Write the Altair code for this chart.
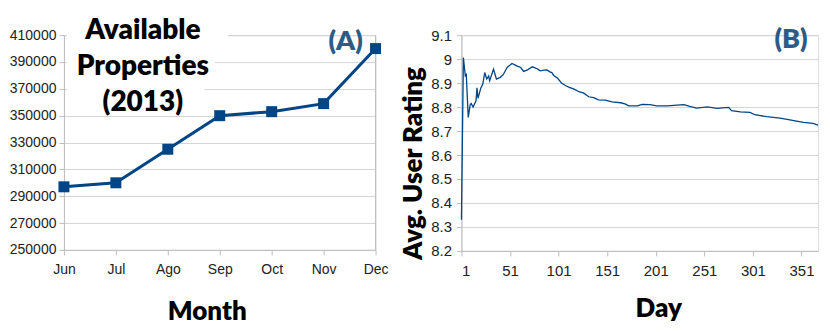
import altair as alt
import pandas as pd

# ---------------- data ----------------
months = ["Jun", "Jul", "Ago", "Sep", "Oct", "Nov", "Dec"]
properties = [297000, 300000, 325000, 350000, 353000, 359000, 400000]

days = [1, 3, 5, 6, 8, 10, 11, 13, 16, 17, 18, 21, 23, 25, 27, 29, 30, 34, 37, 41,
        44, 48, 53, 57, 59, 62, 65, 69, 74, 79, 82, 86, 89, 92, 94, 96, 100, 104,
        108, 112, 117, 122, 127, 132, 137, 142, 149, 156, 165, 170, 173, 182, 187,
        195, 202, 213, 223, 230, 236, 243, 254, 264, 276, 279, 288, 298, 303, 315,
        329, 339, 353, 363, 368]
ratings = [8.33, 9.007, 8.93, 8.935, 8.757, 8.81, 8.815, 8.80, 8.826, 8.88, 8.837,
           8.88, 8.896, 8.944, 8.917, 8.93, 8.91, 8.958, 8.917, 8.924, 8.935, 8.965,
           8.982, 8.974, 8.97, 8.965, 8.949, 8.955, 8.968, 8.96, 8.951, 8.954, 8.955,
           8.947, 8.944, 8.932, 8.92, 8.90, 8.89, 8.882, 8.875, 8.864, 8.858, 8.843,
           8.839, 8.83, 8.829, 8.822, 8.818, 8.8125, 8.805, 8.805, 8.811, 8.81, 8.805,
           8.805, 8.808, 8.81, 8.803, 8.796, 8.801, 8.795, 8.799, 8.785, 8.78, 8.778,
           8.768, 8.76, 8.754, 8.747, 8.736, 8.732, 8.725]

y_ticks_a = [250000, 270000, 290000, 310000, 330000, 350000, 370000, 390000, 410000]
y_ticks_b = [8.2, 8.3, 8.4, 8.5, 8.6, 8.7, 8.8, 8.9, 9.0, 9.1]
x_ticks_b = [1, 51, 101, 151, 201, 251, 301, 351]

dfA = pd.DataFrame({"Month": months, "Properties": properties})
dfB = pd.DataFrame({"Day": days, "Rating": ratings})
one = pd.DataFrame({"k": [0]})

BLUE = "#004586"
TAG = "#2e5a86"
GRID = "#d4d4d4"
AXISC = "#bdbdbd"
LFONT = "Liberation Sans"
TFONT = "Lato"
HW = 800

# ---------------- chart A ----------------
xA = alt.X("Month:O", sort=months,
           scale=alt.Scale(type="point", padding=0),
           axis=alt.Axis(title="Month", labelAngle=0, grid=False, ticks=True,
                         tickSize=5, tickColor=AXISC, domainColor=AXISC,
                         labelFont=LFONT, labelFontSize=14, labelColor="#222",
                         labelPadding=8, titleFont=TFONT, titleFontSize=26,
                         titleFontWeight=HW, titleColor="#000",
                         titleX=143, titleY=70, titleBaseline="alphabetic"))
yA = alt.Y("Properties:Q",
           scale=alt.Scale(domain=[250000, 410000], nice=False, zero=False),
           axis=alt.Axis(title=None, values=y_ticks_a, format="d", grid=True,
                         gridColor=GRID, tickSize=5, tickColor=AXISC,
                         domainColor=AXISC, labelFont=LFONT, labelFontSize=14,
                         labelColor="#222", labelPadding=3))

baseA = alt.Chart(dfA)
annA = alt.Chart(one)
lineA = baseA.mark_line(color=BLUE, strokeWidth=3).encode(x=xA, y=yA)
ptsA = baseA.mark_point(shape="square", filled=True, size=121, opacity=1,
                        color=BLUE).encode(x=xA, y=yA)
edgeA = annA.mark_rule(color=AXISC, strokeWidth=1).encode(
    x=alt.value(312), y=alt.value(0), y2=alt.value(215))
box1 = annA.mark_rect(color="white").encode(
    x=alt.value(3), x2=alt.value(164), y=alt.value(-20), y2=alt.value(8))
box2 = annA.mark_rect(color="white").encode(
    x=alt.value(3), x2=alt.value(151), y=alt.value(8), y2=alt.value(46))
box3 = annA.mark_rect(color="white").encode(
    x=alt.value(3), x2=alt.value(141), y=alt.value(46), y2=alt.value(72))
titleA = annA.mark_text(font=TFONT, fontSize=28, fontWeight=HW, color="#000",
                        align="center", baseline="alphabetic", lineHeight=36).encode(
    x=alt.value(79), y=alt.value(4),
    text=alt.value(["Available", "Properties", "(2013)"]))
tagA = annA.mark_text(font=TFONT, fontSize=27, fontWeight=HW, color=TAG,
                      align="center", baseline="alphabetic").encode(
    x=alt.value(282), y=alt.value(15), text=alt.value("(A)"))

chartA = alt.layer(edgeA, box1, box2, box3, lineA, ptsA, titleA, tagA).properties(
    width=312, height=215)

# ---------------- chart B ----------------
xB = alt.X("Day:Q", scale=alt.Scale(domain=[1, 368], nice=False, zero=False),
           axis=alt.Axis(title="Day", values=x_ticks_b, format="d", grid=False,
                         tickSize=5, tickColor=AXISC, domainColor=AXISC,
                         labelFont=LFONT, labelFontSize=15, labelColor="#222",
                         labelPadding=8, titleFont=TFONT, titleFontSize=26,
                         titleFontWeight=HW, titleColor="#000",
                         titleX=197, titleY=66, titleBaseline="alphabetic"))
yB = alt.Y("Rating:Q", scale=alt.Scale(domain=[8.2, 9.1], nice=False, zero=False),
           axis=alt.Axis(title="Avg. User Rating", values=y_ticks_b, format=".1~f",
                         grid=True, gridColor=GRID, tickSize=5, tickColor=AXISC,
                         domainColor=AXISC, labelFont=LFONT, labelFontSize=15,
                         labelColor="#222", labelPadding=5, titleFont=TFONT,
                         titleFontSize=26, titleFontWeight=HW, titleColor="#000",
                         titleAngle=270, titleX=-40, titleY=128,
                         titleBaseline="alphabetic", titleAlign="center"))

baseB = alt.Chart(dfB)
annB = alt.Chart(one)
lineB = baseB.mark_line(color=BLUE, strokeWidth=1.3).encode(x=xB, y=yB)
tagB = annB.mark_text(font=TFONT, fontSize=27, fontWeight=HW, color=TAG,
                      align="center", baseline="alphabetic").encode(
    x=alt.value(330), y=alt.value(13), text=alt.value("(B)"))

chartB = alt.layer(lineB, tagB).properties(width=357, height=216)

chart = alt.hconcat(chartA, chartB, spacing=11).properties(
    padding={"left": 0, "top": 6, "right": 0, "bottom": 0}
).configure_view(stroke=None).configure(background="white")

chart.save("out.html", embed_options={"renderer": "svg", "actions": False})
